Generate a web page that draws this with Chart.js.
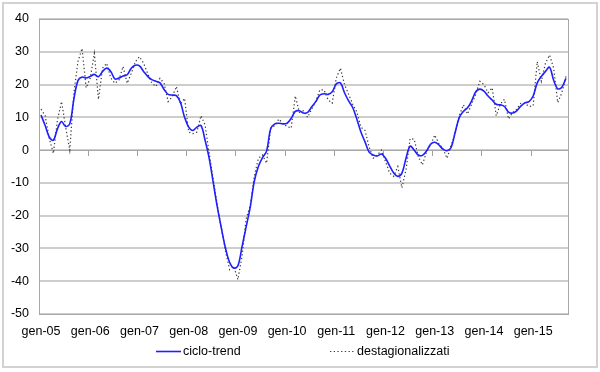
<!DOCTYPE html>
<html>
<head>
<meta charset="utf-8">
<script src="https://cdn.jsdelivr.net/npm/chart.js@4/dist/chart.umd.min.js"></script>
<style>
  body { margin: 0; background: #fff; }
  canvas { display: block; }
</style>
</head>
<body>
<canvas id="chart" width="600" height="372"></canvas>
<script>
// mesi gen-05 .. set-15
const mesi = ['gen', 'feb', 'mar', 'apr', 'mag', 'giu', 'lug', 'ago', 'set', 'ott', 'nov', 'dic'];
const anni = ['05', '06', '07', '08', '09', '10', '11', '12', '13', '14', '15'];
const tickLabels = ['gen-05', 'gen-06', 'gen-07', 'gen-08', 'gen-09', 'gen-10', 'gen-11', 'gen-12', 'gen-13', 'gen-14', 'gen-15'];

const cicloTrend = [
    10.7, 7.5, 4, 3, 6.5, 8.7, 7.2, 8, 15.5, 21.2, 22.3, 22,
    22.5, 23.1, 22.4, 24, 25, 24, 21.7, 22, 22.6, 23, 25, 25.9,
    25.7, 24, 22.5, 21.5, 21, 20.5, 18.5, 17, 16.8, 16.6, 14.5, 10,
    7, 6, 7, 7.5, 3, -2.5, -10, -17.5, -24, -30, -34.3, -36,
    -35.3, -29.5, -23.5, -17.5, -9.5, -5, -2.3, -0.3, 6.5, 8, 8.2, 8,
    8.2, 9.7, 11.8, 12, 11.3, 11.5, 13.2, 14.8, 16.8, 17.2, 17, 17.8,
    20.2, 20.5, 17.5, 15, 13, 9.5, 5.5, 2.5, -0.6, -1.5, -1.8, -1.2,
    -2.5, -4.8, -7, -8, -7, -2.5, 1.2, 0, -1.5, -1.6, -0.3, 1.8,
    2.4, 1.6, 0.3, -0.2, 0.8, 5.5, 10, 11.8, 12.9, 15, 17.8, 18.6,
    18, 16.5, 15.3, 14, 13.8, 13.3, 11.6, 11.3, 12, 13.4, 14.4, 14.8,
    16.5, 20.5, 22.5, 24, 25.3, 21.3, 18.7, 19.2, 21.9
];

const destagionalizzati = [
    12.5, 10.5, 3.6, -1, 9.2, 14.8, 7, 0, 17.4, 27, 31, 19,
    22, 29.5, 15.5, 25, 26.5, 22, 20.4, 21.4, 25.5, 20.4, 23.4, 27,
    28.5, 26.5, 23.4, 20.5, 19.4, 21.9, 20.4, 14.8, 16.3, 19.4, 14, 15.8,
    5.5, 5, 5.5, 10.5, 7.7, -1, -9, -17, -24, -31, -36.5, -35.5,
    -39.5, -32.5, -21, -17, -8, -2.5, -1.5, -4, 6.7, 7.5, 9.5, 8,
    7.2, 6.7, 16.5, 11.5, 12, 10, 12.5, 15, 18.4, 18.4, 15.3, 14.3,
    22, 25, 20, 17, 14, 11.7, 7, 6, 1, -2.5, -1.5, 0,
    -3.5, -7, -8, -5, -11.5, -6, 3.5, 3.3, -2, -4.5, -0.5, 1.5,
    4.6, 2, 0.5, -2.5, 1.5, 5, 10.5, 13.8, 11, 14, 17, 21,
    20, 17.5, 19, 10.5, 14, 15.5, 9.5, 11.5, 12.5, 14.3, 14.3, 13.3,
    13.5, 27, 21, 26.5, 29, 25, 14.5, 17.5, 22.5
];

let labels = [];
for (let a = 0; a < anni.length; a++) {
    for (let m = 0; m < 12; m++) {
        labels.push(mesi[m] + '-' + anni[a]);
    }
}
labels = labels.slice(0, cicloTrend.length);

Chart.defaults.font.family = "'Liberation Sans', Arial, sans-serif";
Chart.defaults.font.size = 12.5;
Chart.defaults.color = '#000';

// cornice esterna
const framePlugin = {
    id: 'frame',
    beforeDraw(chart) {
        const c = chart.ctx;
        c.save();
        c.fillStyle = '#fff';
        c.fillRect(0, 0, chart.width, chart.height);
        c.strokeStyle = '#d2d2d2';
        c.lineWidth = 2;
        c.strokeRect(3, 3, 594, 364);
        c.restore();
    },
    beforeDatasetsDraw(chart) {
        const a = chart.chartArea;
        const c = chart.ctx;
        c.save();
        c.strokeStyle = '#a8a8a8';
        c.lineWidth = 1;
        c.strokeRect(Math.round(a.left) + 0.5, Math.round(a.top) + 0.5,
            Math.round(a.right - a.left), Math.round(a.bottom - a.top));
        c.restore();
    }
};

// legenda in stile Excel
const legendPlugin = {
    id: 'excelLegend',
    afterDraw(chart) {
        const c = chart.ctx;
        const y = 351.5;
        const pos = [156, 330];
        c.save();
        c.font = "12.5px 'Liberation Sans', Arial, sans-serif";
        c.textBaseline = 'middle';
        c.fillStyle = '#000';
        chart.data.datasets.forEach(function (ds, i) {
            const x = pos[i];
            c.beginPath();
            c.strokeStyle = ds.borderColor;
            c.lineWidth = ds.borderWidth;
            c.setLineDash(ds.borderDash || []);
            c.moveTo(x, y);
            c.lineTo(x + 25, y);
            c.stroke();
            c.setLineDash([]);
            c.fillText(ds.label, x + 27, y);
        });
        c.restore();
    }
};

const ctx = document.getElementById('chart').getContext('2d');
new Chart(ctx, {
    type: 'line',
    data: {
        labels: labels,
        datasets: [
            {
                label: 'ciclo-trend',
                data: cicloTrend,
                borderColor: '#1f1fff',
                borderWidth: 1.6,
                pointRadius: 0,
                tension: 0.35,
                fill: false
            },
            {
                label: 'destagionalizzati',
                data: destagionalizzati,
                borderColor: '#3a3a3a',
                borderWidth: 1.2,
                borderDash: [1.3, 2.4],
                pointRadius: 0,
                tension: 0,
                fill: false
            }
        ]
    },
    options: {
        responsive: false,
        animation: false,
        devicePixelRatio: 1,
        layout: { padding: { left: 0, top: 19, right: 32, bottom: 0 } },
        plugins: {
            legend: { display: false },
            tooltip: { enabled: false }
        },
        scales: {
            x: {
                type: 'category',
                offset: true,
                grid: { display: false, drawTicks: false },
                border: { display: false },
                ticks: {
                    autoSkip: false,
                    maxRotation: 0,
                    minRotation: 0,
                    padding: 10,
                    callback: function (v) {
                        const l = this.getLabelForValue(v);
                        return tickLabels.includes(l) ? l : '';
                    }
                },
                afterFit: function (s) { s.height = 58; }
            },
            x2: {
                type: 'category',
                axis: 'x',
                position: { y: 0 },
                offset: true,
                grid: {
                    offset: true,
                    drawOnChartArea: false,
                    drawTicks: true,
                    tickLength: 5,
                    color: function (c) { return c.index % 12 === 0 ? '#a0a0a0' : 'rgba(0,0,0,0)'; }
                },
                border: { display: true, color: '#a8a8a8', width: 1 },
                ticks: { display: false }
            },
            y: {
                min: -50,
                max: 40,
                ticks: { stepSize: 10, padding: 10 },
                grid: { color: '#cdcdcd', lineWidth: 2, drawTicks: false },
                border: { display: false },
                afterFit: function (s) { s.width = 39; }
            }
        }
    },
    plugins: [framePlugin, legendPlugin]
});
</script>
</body>
</html>
